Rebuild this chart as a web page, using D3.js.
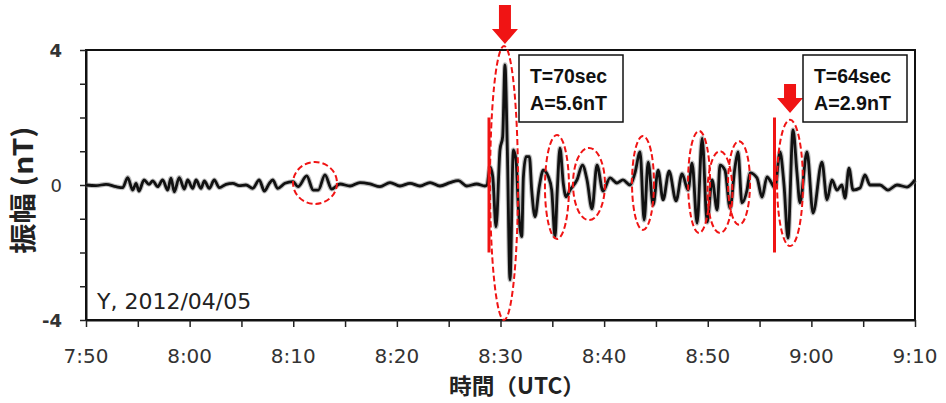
<!DOCTYPE html>
<html>
<head>
<meta charset="utf-8">
<script src="https://cdn.jsdelivr.net/npm/d3@7/dist/d3.min.js"></script>
<style>
  html, body { margin: 0; padding: 0; background: #fff; }
  svg { display: block; }
</style>
</head>
<body>
<svg id="chart" width="946" height="403"></svg>
<script>
// ---- data (minutes after 7:50 UTC, amplitude in nT) ----
const sampleMinutes = [
  0.00, 0.97, 1.93, 2.90, 3.54, 4.02, 4.51, 4.83, 5.11, 5.60, 6.08, 6.44, 6.92, 7.40, 7.88, 8.20, 8.52, 9.00, 9.49, 9.81,
  10.30, 10.62, 11.10, 11.42, 11.90, 12.38, 12.86, 13.51, 14.16, 14.79, 15.44, 16.09, 16.72, 17.21, 17.69, 18.02, 18.50, 19.20, 19.98, 20.46,
  21.30, 21.93, 22.42, 23.06, 23.71, 24.51, 25.48, 26.44, 27.41, 28.37, 29.34, 30.30, 31.27, 32.23, 33.20, 34.16, 35.13, 35.93, 36.74, 37.70,
  38.50, 38.70, 38.99, 39.25, 39.57, 39.95, 40.21, 40.43, 40.66, 40.92, 41.24, 41.50, 41.72, 42.05, 42.21, 42.47, 42.79, 43.01, 43.33, 43.74,
  44.13, 44.61, 44.94, 45.26, 45.48, 45.74, 46.06, 46.32, 46.71, 47.38, 47.91, 48.35, 48.83, 49.31, 49.89, 50.57, 51.24, 51.82, 52.50, 52.98,
  53.47, 53.86, 54.25, 54.73, 55.21, 55.69, 56.27, 56.94, 57.52, 58.10, 58.49, 58.97, 59.46, 59.94, 60.42, 60.91, 61.18, 61.66, 62.15, 62.63,
  62.92, 63.30, 63.79, 64.08, 64.75, 65.24, 65.72, 66.10, 66.49, 66.97, 67.36, 67.74, 68.23, 68.61, 68.90, 69.58, 70.16, 71.02, 71.51, 71.99,
  72.47, 72.95, 73.24, 73.63, 74.02, 74.69, 75.17, 75.66, 76.62, 77.39, 78.26, 79.23, 80.00
];
const sampleValues = [
  0.00, -0.02, 0.02, -0.05, -0.08, 0.22, -0.15, 0.05, -0.18, 0.15, 0.02, 0.12, -0.05, 0.15, -0.15, 0.20, -0.20, 0.22, -0.12, 0.15,
  -0.10, 0.15, -0.10, 0.12, -0.10, 0.15, -0.08, 0.02, 0.05, -0.02, 0.00, -0.10, 0.15, -0.18, 0.05, 0.15, -0.10, 0.05, 0.10, -0.05,
  0.27, -0.15, -0.15, 0.30, -0.12, 0.03, -0.03, 0.07, 0.03, -0.05, 0.07, -0.03, 0.05, -0.03, 0.07, -0.03, 0.07, 0.13, -0.03, 0.03,
  -0.03, 0.00, 0.54, 0.25, -1.24, 1.04, 1.43, 3.56, 1.04, -2.81, 1.04, 0.74, -0.64, -1.53, 0.25, 0.84, 0.84, -0.15, -0.94, -0.05,
  0.44, 0.25, -0.15, -1.53, -0.15, 1.09, 0.05, -0.35, -0.15, 0.15, 0.59, 0.15, -0.71, 0.59, -0.18, 0.21, 0.06, 0.15, 0.00, 0.36,
  0.98, -1.04, 0.68, -0.59, 0.44, -0.44, 0.41, -0.47, 0.33, -0.15, 0.65, -1.13, 1.39, -1.10, 0.15, -0.74, 0.59, 0.44, -0.68, 0.53,
  0.98, -0.53, -0.15, 0.36, 0.21, -0.36, 0.24, 0.09, -0.09, 0.98, 0.00, -1.57, 1.63, 0.36, -0.53, 0.98, -0.83, 0.68, -0.44, 0.15,
  -0.15, 0.00, -0.39, 0.50, -0.15, -0.09, 0.30, 0.00, 0.00, -0.15, 0.00, -0.06, 0.15
];
const xTickMinutes = [0, 10, 20, 30, 40, 50, 60, 70, 80];
const xTickLabels = ["7:50", "8:00", "8:10", "8:20", "8:30", "8:40", "8:50", "9:00", "9:10"];
const yTickValues = [-4, -3, -2, -1, 0, 1, 2, 3, 4];
const yTickLabels = ["-4", "", "", "", "0", "", "", "", "4"];

// annotation ellipses: centre minute, centre nT, half-width (min), half-height (nT)
const ellipseMinutes = [22.1, 40.34, 45.45, 48.54, 53.75, 59.16, 61.18, 63.02, 67.94];
const ellipseValues  = [0.06, 0.06, -0.06, 0.03, 0.06, 0.09, -0.21, 0.06, 0.06];
const ellipseHalfMin = [2.12, 1.35, 1.16, 1.54, 1.06, 1.06, 1.20, 1.06, 1.25];
const ellipseHalfNT  = [0.62, 4.06, 1.54, 1.07, 1.39, 1.51, 1.21, 1.24, 1.87];
// onset markers (vertical red lines) from +2 to -2 nT
const onsetMinutes = [38.89, 66.44];
// arrows: tip minute / tip nT
const arrowMinutes = [40.43, 67.94];
const arrowValues = [4.18, 2.13];
const boxTexts = [["T=70sec", "A=5.6nT"], ["T=64sec", "A=2.9nT"]];
const stationLabel = "Y, 2012/04/05";

// ---- drawing ----
const svg = d3.select("#chart");
const x = d3.scaleLinear().domain([0, 80]).range([86, 915]);
const y = d3.scaleLinear().domain([-4, 4]).range([320, 50]);
const data = sampleMinutes.map((m, i) => [m, sampleValues[i]]);

// frame
svg.append("rect")
  .attr("x", x(0)).attr("y", y(4))
  .attr("width", x(80) - x(0)).attr("height", y(-4) - y(4))
  .attr("fill", "none").attr("stroke", "#111").attr("stroke-width", 2);

// axes
const xAxis = d3.axisBottom(x)
  .tickValues(d3.range(0, 81, 5))
  .tickSize(7).tickSizeOuter(0)
  .tickFormat(() => "");
const gx = svg.append("g").attr("transform", `translate(0,${y(-4)})`).call(xAxis);
gx.select(".domain").attr("stroke", "#111").attr("stroke-width", 2);
gx.selectAll(".tick line").attr("stroke", "#222").attr("stroke-width", 1.5);

svg.append("g").selectAll("text").data(xTickMinutes).join("text")
  .attr("x", d => x(d)).attr("y", 363)
  .attr("text-anchor", "middle")
  .attr("font-family", "DejaVu Sans, sans-serif")
  .attr("font-size", 20).attr("fill", "#333")
  .text((d, i) => xTickLabels[i]);

const yAxis = d3.axisLeft(y).tickValues(yTickValues).tickSize(6).tickSizeOuter(0).tickFormat(() => "");
const gy = svg.append("g").attr("transform", `translate(${x(0)},0)`).call(yAxis);
gy.select(".domain").attr("stroke", "#111").attr("stroke-width", 2);
gy.selectAll(".tick line").attr("stroke", "#222").attr("stroke-width", 1.5);

svg.append("g").selectAll("text").data(yTickValues).join("text")
  .attr("x", 62).attr("y", d => y(d) + 6.5)
  .attr("text-anchor", "end")
  .attr("font-family", "DejaVu Sans, sans-serif")
  .attr("font-size", 18)
  .attr("font-weight", d => d === 0 ? "normal" : "bold")
  .attr("fill", "#333")
  .text((d, i) => yTickLabels[i]);

// axis titles
svg.append("text")
  .attr("x", 517).attr("y", 394)
  .attr("text-anchor", "middle")
  .attr("font-family", "Noto Sans CJK JP, sans-serif")
  .attr("font-size", 22).attr("font-weight", "bold").attr("fill", "#222")
  .attr("textLength", 136).attr("lengthAdjust", "spacingAndGlyphs")
  .text("時間（UTC）");

svg.append("text")
  .attr("transform", "translate(33,190) rotate(-90) scale(1.12,1)")
  .attr("text-anchor", "middle")
  .attr("font-family", "Noto Sans CJK JP, sans-serif")
  .attr("font-size", 27).attr("font-weight", "bold").attr("fill", "#222")
  .text("振幅 (nT)");

// station label
svg.append("text")
  .attr("x", 97).attr("y", 309)
  .attr("font-family", "DejaVu Sans, sans-serif")
  .attr("font-size", 22).attr("fill", "#222")
  .text(stationLabel);

// waveform
const line = d3.line().x(d => x(d[0])).y(d => y(d[1])).curve(d3.curveMonotoneX);
svg.append("path").datum(data).attr("d", line)
  .attr("fill", "none").attr("stroke", "#888").attr("stroke-opacity", 0.55)
  .attr("stroke-width", 5).attr("stroke-linejoin", "round");
svg.append("path").datum(data).attr("d", line)
  .attr("fill", "none").attr("stroke", "#111")
  .attr("stroke-width", 2.8).attr("stroke-linejoin", "round");

// onset lines
svg.append("g").selectAll("line").data(onsetMinutes).join("line")
  .attr("x1", d => x(d)).attr("x2", d => x(d))
  .attr("y1", y(2)).attr("y2", y(-2))
  .attr("stroke", "#f01414").attr("stroke-width", 3);

// ellipses
svg.append("g").selectAll("ellipse").data(ellipseMinutes).join("ellipse")
  .attr("cx", d => x(d))
  .attr("cy", (d, i) => y(ellipseValues[i]))
  .attr("rx", (d, i) => x(ellipseHalfMin[i]) - x(0))
  .attr("ry", (d, i) => y(0) - y(ellipseHalfNT[i]))
  .attr("fill", "none").attr("stroke", "#f01414")
  .attr("stroke-width", 2).attr("stroke-dasharray", "6,3");

// arrows (tip at data point)
const arrowShaftLen = [24, 14];
svg.append("g").selectAll("path").data(arrowMinutes).join("path")
  .attr("d", (d, i) => {
    const tx = x(d), ty = y(arrowValues[i]);
    const hh = 15, hw = 13, sw = 6, sl = arrowShaftLen[i];
    return `M${tx},${ty} L${tx - hw},${ty - hh} L${tx - sw},${ty - hh} L${tx - sw},${ty - hh - sl}` +
           ` L${tx + sw},${ty - hh - sl} L${tx + sw},${ty - hh} L${tx + hw},${ty - hh} Z`;
  })
  .attr("fill", "#f01414");

// text boxes
const boxX = [519, 803];
boxTexts.forEach((lines, i) => {
  const g = svg.append("g");
  g.append("rect").attr("x", boxX[i]).attr("y", 55).attr("width", 104).attr("height", 67)
    .attr("fill", "#fff").attr("stroke", "#111").attr("stroke-width", 1.5);
  lines.forEach((t, j) => {
    g.append("text")
      .attr("x", boxX[i] + 11).attr("y", 83 + j * 27)
      .attr("font-family", "Liberation Sans, Arial, sans-serif")
      .attr("font-size", 20).attr("font-weight", "bold").attr("fill", "#111")
      .attr("textLength", 77).attr("lengthAdjust", "spacingAndGlyphs")
      .text(t);
  });
});
</script>
</body>
</html>
